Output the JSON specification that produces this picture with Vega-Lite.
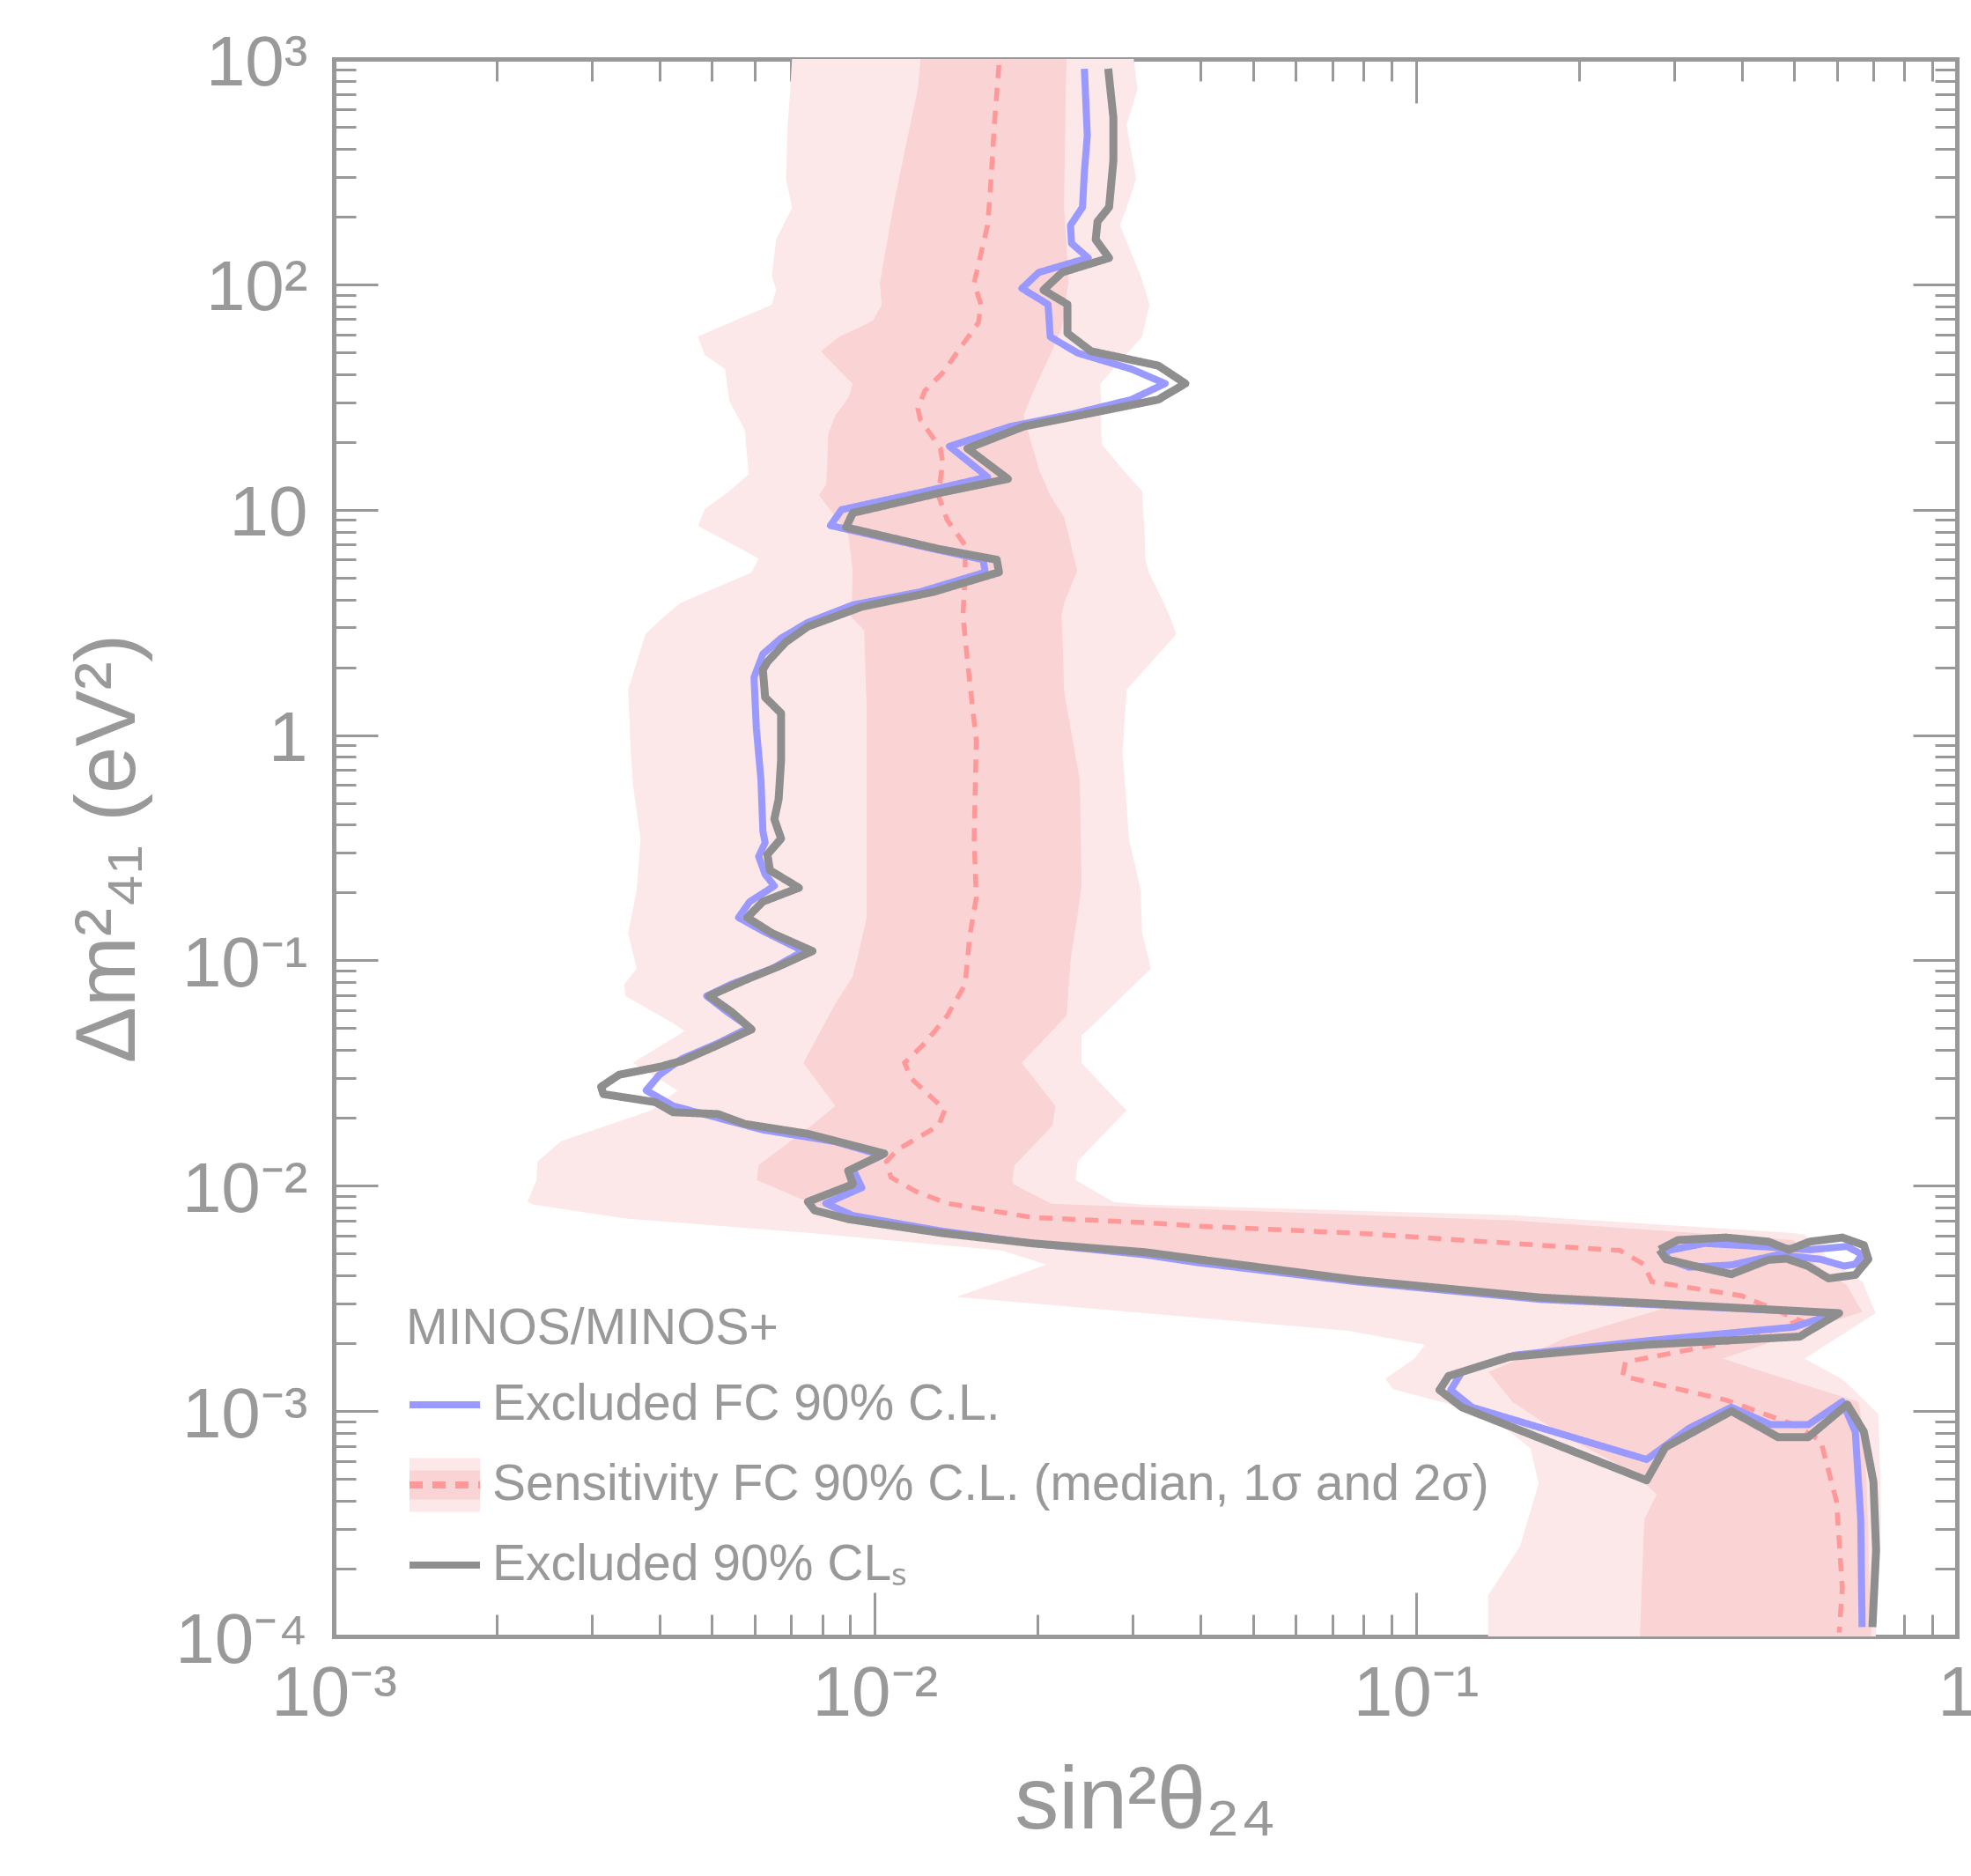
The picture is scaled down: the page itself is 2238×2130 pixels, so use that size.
{
  "$schema": "https://vega.github.io/schema/vega-lite/v6.json",
  "width": 1843,
  "height": 1791,
  "autosize": {"type": "none"},
  "padding": {"left": 379, "top": 67, "right": 16, "bottom": 272},
  "background": "white",
  "config": {
    "view": {"stroke": null},
    "font": "Liberation Sans",
    "axis": {
      "labelFont": "Liberation Sans",
      "titleFont": "Liberation Sans",
      "labelColor": "#999999",
      "titleColor": "#999999",
      "tickColor": "#999999",
      "domainColor": "#999999",
      "grid": false,
      "zindex": 1,
      "labelOverlap": false,
      "labelFlush": false,
      "labelBound": false,
      "titleFontWeight": "normal"
    }
  },
  "datasets": {
    "band2": [
      {"y":1000,"lo":0.00703,"hi":0.0301},{"y":736,"lo":0.00698,"hi":0.0306},{"y":509,"lo":0.0069,"hi":0.0292},{"y":294,"lo":0.00685,"hi":0.0304},{"y":219,"lo":0.00703,"hi":0.0292},{"y":183,"lo":0.00677,"hi":0.0284},{"y":158,"lo":0.00657,"hi":0.0291},{"y":109,"lo":0.00645,"hi":0.031},{"y":94.7,"lo":0.00657,"hi":0.0316},{"y":81.2,"lo":0.00645,"hi":0.0322},{"y":58.7,"lo":0.00471,"hi":0.0312},{"y":48.6,"lo":0.00485,"hi":0.0291},{"y":42.1,"lo":0.00529,"hi":0.0276},{"y":36.1,"lo":0.00533,"hi":0.0261},{"y":30.2,"lo":0.00539,"hi":0.0262},{"y":22.4,"lo":0.00576,"hi":0.0262},{"y":19.4,"lo":0.00578,"hi":0.0263},{"y":14.4,"lo":0.00585,"hi":0.0292},{"y":12.1,"lo":0.00539,"hi":0.0312},{"y":10.07,"lo":0.00485,"hi":0.0313},{"y":8.49,"lo":0.00471,"hi":0.0315},{"y":6.08,"lo":0.0061,"hi":0.0316},{"y":5.27,"lo":0.00592,"hi":0.0321},{"y":4.33,"lo":0.00489,"hi":0.0334},{"y":3.85,"lo":0.00437,"hi":0.0342},{"y":3.36,"lo":0.00408,"hi":0.0351},{"y":2.81,"lo":0.00377,"hi":0.0361},{"y":1.59,"lo":0.0035,"hi":0.0292},{"y":0.841,"lo":0.00354,"hi":0.0287},{"y":0.608,"lo":0.00357,"hi":0.029},{"y":0.345,"lo":0.00369,"hi":0.0295},{"y":0.205,"lo":0.00363,"hi":0.031},{"y":0.132,"lo":0.0035,"hi":0.0312},{"y":0.0919,"lo":0.00363,"hi":0.0324},{"y":0.0782,"lo":0.00344,"hi":0.0302},{"y":0.0695,"lo":0.00346,"hi":0.0287},{"y":0.0526,"lo":0.00424,"hi":0.0255},{"y":0.0485,"lo":0.00445,"hi":0.0246},{"y":0.0464,"lo":0.00432,"hi":0.0241},{"y":0.0351,"lo":0.00357,"hi":0.0241},{"y":0.0265,"lo":0.00432,"hi":0.0269},{"y":0.0216,"lo":0.00386,"hi":0.0292},{"y":0.01575,"lo":0.00263,"hi":0.0257},{"y":0.0128,"lo":0.00238,"hi":0.0237},{"y":0.0106,"lo":0.00237,"hi":0.0235},{"y":0.00847,"lo":0.00228,"hi":0.0276},{"y":0.00824,"lo":0.00234,"hi":0.0316},{"y":0.0074,"lo":0.00316,"hi":0.1524},{"y":0.00714,"lo":0.0035,"hi":0.1909},{"y":0.00618,"lo":0.00752,"hi":0.494},{"y":0.00607,"lo":0.00817,"hi":0.523},{"y":0.00516,"lo":0.01715,"hi":0.559},{"y":0.00447,"lo":0.02076,"hi":0.596},{"y":0.00373,"lo":0.01689,"hi":0.67},{"y":0.00321,"lo":0.01416,"hi":0.687},{"y":0.00272,"lo":0.0316,"hi":0.708},{"y":0.00228,"lo":0.0742,"hi":0.631},{"y":0.00197,"lo":0.104,"hi":0.574},{"y":0.00171,"lo":0.0994,"hi":0.523},{"y":0.00139,"lo":0.0878,"hi":0.612},{"y":0.00125,"lo":0.0908,"hi":0.643},{"y":0.000968,"lo":0.136,"hi":0.716},{"y":0.000682,"lo":0.163,"hi":0.719},{"y":0.000475,"lo":0.1686,"hi":0.722},{"y":0.000332,"lo":0.1612,"hi":0.724},{"y":0.000251,"lo":0.1558,"hi":0.722},{"y":0.000152,"lo":0.136,"hi":0.713},{"y":0.0001,"lo":0.136,"hi":0.708}
    ],
    "band1": [
      {"y":1000,"lo":0.01215,"hi":0.02263},{"y":736,"lo":0.01201,"hi":0.02254},{"y":425.5,"lo":0.01144,"hi":0.02246},{"y":219,"lo":0.01081,"hi":0.02237},{"y":170,"lo":0.01061,"hi":0.02254},{"y":101.7,"lo":0.01022,"hi":0.0228},{"y":81.2,"lo":0.0103,"hi":0.02246},{"y":69.1,"lo":0.00992,"hi":0.02229},{"y":63.1,"lo":0.0092,"hi":0.02213},{"y":58.7,"lo":0.0086,"hi":0.0218},{"y":50.4,"lo":0.00795,"hi":0.02123},{"y":36.1,"lo":0.0091,"hi":0.01991},{"y":31.3,"lo":0.00893,"hi":0.0194},{"y":26.2,"lo":0.00845,"hi":0.01883},{"y":21.6,"lo":0.0082,"hi":0.01926},{"y":14.96,"lo":0.00816,"hi":0.02014},{"y":12.96,"lo":0.00813,"hi":0.02068},{"y":11.63,"lo":0.00789,"hi":0.02107},{"y":9.29,"lo":0.00845,"hi":0.02237},{"y":7.76,"lo":0.00893,"hi":0.0228},{"y":5.36,"lo":0.0091,"hi":0.02366},{"y":3.85,"lo":0.00907,"hi":0.02237},{"y":3.36,"lo":0.00903,"hi":0.02213},{"y":2.91,"lo":0.00956,"hi":0.02222},{"y":1.59,"lo":0.00963,"hi":0.02237},{"y":1.416,"lo":0.00966,"hi":0.02254},{"y":0.63,"lo":0.00966,"hi":0.02393},{"y":0.214,"lo":0.00966,"hi":0.02411},{"y":0.155,"lo":0.00966,"hi":0.02366},{"y":0.1042,"lo":0.0093,"hi":0.02305},{"y":0.0847,"lo":0.0091,"hi":0.02288},{"y":0.0641,"lo":0.00845,"hi":0.02271},{"y":0.0571,"lo":0.00823,"hi":0.02263},{"y":0.0351,"lo":0.00738,"hi":0.01869},{"y":0.0226,"lo":0.00845,"hi":0.02156},{"y":0.01852,"lo":0.00764,"hi":0.02131},{"y":0.01235,"lo":0.0061,"hi":0.01814},{"y":0.0106,"lo":0.00605,"hi":0.01794},{"y":0.01014,"lo":0.00633,"hi":0.01807},{"y":0.00847,"lo":0.00752,"hi":0.0209},{"y":0.00832,"lo":0.00769,"hi":0.02115},{"y":0.00802,"lo":0.00801,"hi":0.0316},{"y":0.0072,"lo":0.0091,"hi":0.1112},{"y":0.00701,"lo":0.0097,"hi":0.1524},{"y":0.00607,"lo":0.01334,"hi":0.362},{"y":0.00574,"lo":0.01615,"hi":0.4998},{"y":0.00544,"lo":0.01955,"hi":0.5054},{"y":0.00488,"lo":0.0395,"hi":0.5307},{"y":0.00447,"lo":0.0524,"hi":0.5468},{"y":0.00396,"lo":0.0776,"hi":0.5916},{"y":0.00362,"lo":0.115,"hi":0.6258},{"y":0.00331,"lo":0.1705,"hi":0.6401},{"y":0.00294,"lo":0.299,"hi":0.6571},{"y":0.00276,"lo":0.2745,"hi":0.6695},{"y":0.00213,"lo":0.191,"hi":0.4833},{"y":0.00171,"lo":0.1553,"hi":0.369},{"y":0.00149,"lo":0.1362,"hi":0.44},{"y":0.0011,"lo":0.1507,"hi":0.6571},{"y":0.00078,"lo":0.187,"hi":0.675},{"y":0.000534,"lo":0.252,"hi":0.679},{"y":0.000427,"lo":0.2786,"hi":0.6821},{"y":0.000332,"lo":0.2644,"hi":0.6847},{"y":0.00021,"lo":0.2624,"hi":0.6873},{"y":0.0001,"lo":0.2595,"hi":0.695}
    ],
    "median": [
      {"i":0,"x":0.01696,"y":940},{"i":1,"x":0.01663,"y":511},{"i":2,"x":0.01632,"y":245},{"i":3,"x":0.01616,"y":183},{"i":4,"x":0.0157,"y":136},{"i":5,"x":0.01526,"y":101.5},{"i":6,"x":0.0157,"y":81.5},{"i":7,"x":0.01555,"y":67.8},{"i":8,"x":0.0144,"y":52.4},{"i":9,"x":0.01335,"y":40.5},{"i":10,"x":0.01237,"y":33.7},{"i":11,"x":0.01201,"y":28.1},{"i":12,"x":0.01213,"y":25.2},{"i":13,"x":0.01322,"y":18.7},{"i":14,"x":0.01335,"y":16.2},{"i":15,"x":0.0131,"y":11.6},{"i":16,"x":0.01361,"y":9.0},{"i":17,"x":0.01469,"y":6.95},{"i":18,"x":0.01469,"y":5.19},{"i":19,"x":0.01455,"y":3.36},{"i":20,"x":0.01497,"y":1.73},{"i":21,"x":0.0154,"y":0.946},{"i":22,"x":0.01526,"y":0.347},{"i":23,"x":0.0154,"y":0.19},{"i":24,"x":0.01497,"y":0.127},{"i":25,"x":0.01469,"y":0.0784},{"i":26,"x":0.01361,"y":0.0568},{"i":27,"x":0.01237,"y":0.0429},{"i":28,"x":0.01135,"y":0.0351},{"i":29,"x":0.01168,"y":0.0299},{"i":30,"x":0.01348,"y":0.0217},{"i":31,"x":0.0131,"y":0.01845},{"i":32,"x":0.01168,"y":0.0157},{"i":33,"x":0.01103,"y":0.01449},{"i":34,"x":0.01051,"y":0.0128},{"i":35,"x":0.01071,"y":0.0109},{"i":36,"x":0.0119,"y":0.00945},{"i":37,"x":0.01361,"y":0.00835},{"i":38,"x":0.01956,"y":0.00723},{"i":39,"x":0.0316,"y":0.00686},{"i":40,"x":0.0395,"y":0.00662},{"i":41,"x":0.0776,"y":0.00616},{"i":42,"x":0.2384,"y":0.00516},{"i":43,"x":0.2638,"y":0.00448},{"i":44,"x":0.273,"y":0.00375},{"i":45,"x":0.4,"y":0.00325},{"i":46,"x":0.512,"y":0.00253},{"i":47,"x":0.418,"y":0.00212},{"i":48,"x":0.244,"y":0.00165},{"i":49,"x":0.241,"y":0.00143},{"i":50,"x":0.374,"y":0.00112},{"i":51,"x":0.5,"y":0.00087},{"i":52,"x":0.56,"y":0.00074},{"i":53,"x":0.599,"y":0.000398},{"i":54,"x":0.614,"y":0.000164},{"i":55,"x":0.606,"y":0.000104}
    ],
    "blue": [
      {"part":"main","i":0,"x":0.0244,"y":905},{"part":"main","i":1,"x":0.0247,"y":457},{"part":"main","i":2,"x":0.0244,"y":317},{"part":"main","i":3,"x":0.0242,"y":220},{"part":"main","i":4,"x":0.023,"y":183},{"part":"main","i":5,"x":0.0231,"y":152},{"part":"main","i":6,"x":0.0248,"y":131},{"part":"main","i":7,"x":0.0201,"y":113},{"part":"main","i":8,"x":0.0187,"y":96},{"part":"main","i":9,"x":0.0209,"y":81.5},{"part":"main","i":10,"x":0.0211,"y":58.5},{"part":"main","i":11,"x":0.0237,"y":49.6},{"part":"main","i":12,"x":0.0298,"y":42.1},{"part":"main","i":13,"x":0.0344,"y":36.3},{"part":"main","i":14,"x":0.0298,"y":30.8},{"part":"main","i":15,"x":0.0232,"y":26.6},{"part":"main","i":16,"x":0.0178,"y":23.4},{"part":"main","i":17,"x":0.01374,"y":19.1},{"part":"main","i":18,"x":0.01616,"y":13.97},{"part":"main","i":19,"x":0.01237,"y":12.05},{"part":"main","i":20,"x":0.00868,"y":10.0},{"part":"main","i":21,"x":0.00828,"y":8.51},{"part":"main","i":22,"x":0.01237,"y":6.83},{"part":"main","i":23,"x":0.01585,"y":6.0},{"part":"main","i":24,"x":0.016,"y":5.28},{"part":"main","i":25,"x":0.01213,"y":4.32},{"part":"main","i":26,"x":0.00911,"y":3.78},{"part":"main","i":27,"x":0.00752,"y":3.16},{"part":"main","i":28,"x":0.00671,"y":2.69},{"part":"main","i":29,"x":0.00621,"y":2.29},{"part":"main","i":30,"x":0.00598,"y":1.8},{"part":"main","i":31,"x":0.00604,"y":1.07},{"part":"main","i":32,"x":0.00616,"y":0.634},{"part":"main","i":33,"x":0.00621,"y":0.375},{"part":"main","i":34,"x":0.00627,"y":0.333},{"part":"main","i":35,"x":0.0061,"y":0.289},{"part":"main","i":36,"x":0.00627,"y":0.241},{"part":"main","i":37,"x":0.00652,"y":0.214},{"part":"main","i":38,"x":0.00587,"y":0.182},{"part":"main","i":39,"x":0.0056,"y":0.155},{"part":"main","i":40,"x":0.00621,"y":0.135},{"part":"main","i":41,"x":0.00738,"y":0.11},{"part":"main","i":42,"x":0.00646,"y":0.092},{"part":"main","i":43,"x":0.00543,"y":0.0784},{"part":"main","i":44,"x":0.00489,"y":0.0695},{"part":"main","i":45,"x":0.00533,"y":0.0592},{"part":"main","i":46,"x":0.00587,"y":0.0504},{"part":"main","i":47,"x":0.00513,"y":0.0429},{"part":"main","i":48,"x":0.0044,"y":0.0366},{"part":"main","i":49,"x":0.004,"y":0.0311},{"part":"main","i":50,"x":0.00378,"y":0.0265},{"part":"main","i":51,"x":0.00424,"y":0.0226},{"part":"main","i":52,"x":0.00513,"y":0.02},{"part":"main","i":53,"x":0.00621,"y":0.0177},{"part":"main","i":54,"x":0.00844,"y":0.0157},{"part":"main","i":55,"x":0.01031,"y":0.01365},{"part":"main","i":56,"x":0.00911,"y":0.01186},{"part":"main","i":57,"x":0.00946,"y":0.0098},{"part":"main","i":58,"x":0.00812,"y":0.00835},{"part":"main","i":59,"x":0.00911,"y":0.00737},{"part":"main","i":60,"x":0.01335,"y":0.00628},{"part":"main","i":61,"x":0.01956,"y":0.00555},{"part":"main","i":62,"x":0.0316,"y":0.00494},{"part":"main","i":63,"x":0.0395,"y":0.00456},{"part":"main","i":64,"x":0.0776,"y":0.00375},{"part":"main","i":65,"x":0.17,"y":0.00313},{"part":"main","i":66,"x":0.599,"y":0.00272},{"part":"main","i":67,"x":0.5,"y":0.00236},{"part":"main","i":68,"x":0.267,"y":0.00205},{"part":"main","i":69,"x":0.152,"y":0.00177},{"part":"main","i":70,"x":0.1216,"y":0.00149},{"part":"main","i":71,"x":0.116,"y":0.00124},{"part":"main","i":72,"x":0.127,"y":0.00104},{"part":"main","i":73,"x":0.267,"y":0.00061},{"part":"main","i":74,"x":0.32,"y":0.00084},{"part":"main","i":75,"x":0.383,"y":0.00104},{"part":"main","i":76,"x":0.453,"y":0.00087},{"part":"main","i":77,"x":0.531,"y":0.00087},{"part":"main","i":78,"x":0.614,"y":0.0011},{"part":"main","i":79,"x":0.649,"y":0.00081},{"part":"main","i":80,"x":0.664,"y":0.000333},{"part":"main","i":81,"x":0.668,"y":0.00011},
      {"part":"island","i":0,"x":0.289,"y":0.00513},{"part":"island","i":1,"x":0.342,"y":0.00555},{"part":"island","i":2,"x":0.448,"y":0.00535},{"part":"island","i":3,"x":0.535,"y":0.0052},{"part":"island","i":4,"x":0.627,"y":0.00538},{"part":"island","i":5,"x":0.668,"y":0.00494},{"part":"island","i":6,"x":0.649,"y":0.00449},{"part":"island","i":7,"x":0.619,"y":0.0044},{"part":"island","i":8,"x":0.559,"y":0.00472},{"part":"island","i":9,"x":0.467,"y":0.00494},{"part":"island","i":10,"x":0.383,"y":0.00445},{"part":"island","i":11,"x":0.32,"y":0.00435},{"part":"island","i":12,"x":0.292,"y":0.00472},{"part":"island","i":13,"x":0.289,"y":0.00513}
    ],
    "gray": [
      {"part":"main","i":0,"x":0.027,"y":905},{"part":"main","i":1,"x":0.0276,"y":549},{"part":"main","i":2,"x":0.0276,"y":354},{"part":"main","i":3,"x":0.0271,"y":220},{"part":"main","i":4,"x":0.0258,"y":190},{"part":"main","i":5,"x":0.0256,"y":158},{"part":"main","i":6,"x":0.0271,"y":131},{"part":"main","i":7,"x":0.0222,"y":113},{"part":"main","i":8,"x":0.0205,"y":94.4},{"part":"main","i":9,"x":0.0227,"y":81.5},{"part":"main","i":10,"x":0.0227,"y":60.7},{"part":"main","i":11,"x":0.0251,"y":50.5},{"part":"main","i":12,"x":0.0334,"y":43.6},{"part":"main","i":13,"x":0.0375,"y":36.3},{"part":"main","i":14,"x":0.0334,"y":30.8},{"part":"main","i":15,"x":0.0237,"y":26.1},{"part":"main","i":16,"x":0.01884,"y":23.4},{"part":"main","i":17,"x":0.01483,"y":18.7},{"part":"main","i":18,"x":0.01762,"y":13.7},{"part":"main","i":19,"x":0.0131,"y":11.84},{"part":"main","i":20,"x":0.00911,"y":9.68},{"part":"main","i":21,"x":0.00885,"y":8.35},{"part":"main","i":22,"x":0.0131,"y":6.7},{"part":"main","i":23,"x":0.0168,"y":6.0},{"part":"main","i":24,"x":0.01696,"y":5.28},{"part":"main","i":25,"x":0.01285,"y":4.32},{"part":"main","i":26,"x":0.00946,"y":3.71},{"part":"main","i":27,"x":0.00752,"y":3.03},{"part":"main","i":28,"x":0.00684,"y":2.58},{"part":"main","i":29,"x":0.00633,"y":2.11},{"part":"main","i":30,"x":0.00621,"y":1.95},{"part":"main","i":31,"x":0.00627,"y":1.47},{"part":"main","i":32,"x":0.00671,"y":1.25},{"part":"main","i":33,"x":0.00671,"y":0.774},{"part":"main","i":34,"x":0.00664,"y":0.518},{"part":"main","i":35,"x":0.00652,"y":0.424},{"part":"main","i":36,"x":0.00671,"y":0.347},{"part":"main","i":37,"x":0.00633,"y":0.295},{"part":"main","i":38,"x":0.0064,"y":0.251},{"part":"main","i":39,"x":0.00724,"y":0.21},{"part":"main","i":40,"x":0.00621,"y":0.1823},{"part":"main","i":41,"x":0.00581,"y":0.155},{"part":"main","i":42,"x":0.00646,"y":0.132},{"part":"main","i":43,"x":0.00767,"y":0.11},{"part":"main","i":44,"x":0.00664,"y":0.094},{"part":"main","i":45,"x":0.00575,"y":0.0817},{"part":"main","i":46,"x":0.00494,"y":0.0695},{"part":"main","i":47,"x":0.00543,"y":0.0592},{"part":"main","i":48,"x":0.00592,"y":0.0494},{"part":"main","i":49,"x":0.00513,"y":0.0421},{"part":"main","i":50,"x":0.0044,"y":0.0358},{"part":"main","i":51,"x":0.004,"y":0.0337},{"part":"main","i":52,"x":0.00337,"y":0.0311},{"part":"main","i":53,"x":0.00312,"y":0.0275},{"part":"main","i":54,"x":0.00315,"y":0.0255},{"part":"main","i":55,"x":0.00393,"y":0.0235},{"part":"main","i":56,"x":0.00424,"y":0.0212},{"part":"main","i":57,"x":0.00513,"y":0.0208},{"part":"main","i":58,"x":0.00575,"y":0.0188},{"part":"main","i":59,"x":0.00752,"y":0.017},{"part":"main","i":60,"x":0.01041,"y":0.0139},{"part":"main","i":61,"x":0.00893,"y":0.01164},{"part":"main","i":62,"x":0.00911,"y":0.01015},{"part":"main","i":63,"x":0.00752,"y":0.00849},{"part":"main","i":64,"x":0.00774,"y":0.00777},{"part":"main","i":65,"x":0.00893,"y":0.00711},{"part":"main","i":66,"x":0.01335,"y":0.00616},{"part":"main","i":67,"x":0.01956,"y":0.00555},{"part":"main","i":68,"x":0.0316,"y":0.00507},{"part":"main","i":69,"x":0.0395,"y":0.00472},{"part":"main","i":70,"x":0.0776,"y":0.00382},{"part":"main","i":71,"x":0.17,"y":0.00319},{"part":"main","i":72,"x":0.606,"y":0.00272},{"part":"main","i":73,"x":0.512,"y":0.00214},{"part":"main","i":74,"x":0.267,"y":0.00197},{"part":"main","i":75,"x":0.149,"y":0.00174},{"part":"main","i":76,"x":0.1149,"y":0.00143},{"part":"main","i":77,"x":0.1106,"y":0.00124},{"part":"main","i":78,"x":0.1216,"y":0.00104},{"part":"main","i":79,"x":0.267,"y":0.000493},{"part":"main","i":80,"x":0.289,"y":0.00069},{"part":"main","i":81,"x":0.383,"y":0.001},{"part":"main","i":82,"x":0.467,"y":0.000766},{"part":"main","i":83,"x":0.531,"y":0.000766},{"part":"main","i":84,"x":0.627,"y":0.00107},{"part":"main","i":85,"x":0.673,"y":0.00081},{"part":"main","i":86,"x":0.701,"y":0.000485},{"part":"main","i":87,"x":0.709,"y":0.000242},{"part":"main","i":88,"x":0.698,"y":0.00011},
      {"part":"island","i":0,"x":0.282,"y":0.0052},{"part":"island","i":1,"x":0.305,"y":0.00574},{"part":"island","i":2,"x":0.374,"y":0.00589},{"part":"island","i":3,"x":0.448,"y":0.00565},{"part":"island","i":4,"x":0.489,"y":0.0052},{"part":"island","i":5,"x":0.535,"y":0.00565},{"part":"island","i":6,"x":0.614,"y":0.00589},{"part":"island","i":7,"x":0.673,"y":0.00545},{"part":"island","i":8,"x":0.686,"y":0.00472},{"part":"island","i":9,"x":0.649,"y":0.00402},{"part":"island","i":10,"x":0.579,"y":0.00388},{"part":"island","i":11,"x":0.531,"y":0.0044},{"part":"island","i":12,"x":0.484,"y":0.00475},{"part":"island","i":13,"x":0.448,"y":0.00469},{"part":"island","i":14,"x":0.383,"y":0.00405},{"part":"island","i":15,"x":0.328,"y":0.0044},{"part":"island","i":16,"x":0.29,"y":0.00472},{"part":"island","i":17,"x":0.282,"y":0.0052}
    ]
  },
  "resolve": {"axis": {"x": "independent", "y": "independent"}},
  "layer": [
    {
      "data": {"name": "band2"},
      "mark": {"type": "area", "orient": "horizontal", "opacity": 1, "clip": true},
      "encoding": {
        "y": {"field": "y", "type": "quantitative", "scale": {"type": "log", "domain": [0.0001, 1000], "nice": false},
          "axis": {"orient": "left", "values": [0.0001, 0.001, 0.01, 0.1, 1, 10, 100, 1000], "ticks": false, "domain": true, "domainWidth": 5, "domainCap": "square", "labelFontSize": 80, "labelPadding": 30, "labelOffset": 5,
            "labelExpr": "datum.value < 0.0005 ? '10\u207b\u2074' : datum.value < 0.005 ? '10\u207b\u00b3' : datum.value < 0.05 ? '10\u207b\u00b2' : datum.value < 0.5 ? '10\u207b\u00b9' : datum.value < 5 ? '1' : datum.value < 50 ? '10' : datum.value < 500 ? '10\u00b2' : '10\u00b3'",
            "title": "\u0394m\u00b2\u2084\u2081 (eV\u00b2)", "titleFontSize": 96, "titleAngle": 270, "titleBaseline": "alphabetic", "titleAlign": "center", "titleX": -227, "titleY": 896}},
        "x": {"field": "lo", "type": "quantitative", "scale": {"type": "log", "domain": [0.001, 1], "nice": false},
          "axis": {"orient": "bottom", "values": [0.001, 0.01, 0.1, 1], "ticks": false, "domain": true, "domainWidth": 5, "domainCap": "square", "labelFontSize": 80, "labelPadding": 26,
            "labelExpr": "datum.value < 0.005 ? '10\u207b\u00b3' : datum.value < 0.05 ? '10\u207b\u00b2' : datum.value < 0.5 ? '10\u207b\u00b9' : '1'",
            "title": "sin\u00b2\u03b8\u2082\u2084", "titleFontSize": 100, "titleBaseline": "alphabetic", "titleAlign": "center", "titleX": 921, "titleY": 217}},
        "x2": {"field": "hi"},
        "color": {"datum": "c2", "type": "nominal", "scale": {"domain": ["c1", "c2", "c3"], "range": ["rgba(0,0,0,0)", "#fde8e9", "rgba(0,0,0,0)"]},
          "legend": {"orient": "none", "legendX": 82, "legendY": 1414, "direction": "vertical", "padding": 0, "title": " ", "titleFontSize": 57, "titleFont": "Liberation Sans", "titleFontWeight": "normal", "titleLimit": 2000, "titlePadding": 13, "labelFontSize": 57, "labelFont": "Liberation Sans", "labelExpr": "''", "labelLimit": 2000, "labelOffset": 10, "symbolType": "M-1,-0.76H1V0.76H-1Z", "symbolSize": 6400, "symbolStrokeWidth": 8, "symbolStrokeColor": "rgba(0,0,0,0)", "rowPadding": -5}}
      }
    },
    {
      "data": {"name": "band1"},
      "mark": {"type": "area", "orient": "horizontal", "opacity": 1, "clip": true},
      "encoding": {
        "y": {"field": "y", "type": "quantitative", "scale": {"type": "log", "domain": [0.0001, 1000], "nice": false},
          "axis": {"orient": "left", "values": [0.0001, 0.001, 0.01, 0.1, 1, 10, 100, 1000], "labels": false, "domain": false, "tickSize": -50, "tickWidth": 3, "title": null}},
        "x": {"field": "lo", "type": "quantitative", "scale": {"type": "log", "domain": [0.001, 1], "nice": false},
          "axis": {"orient": "bottom", "values": [0.001, 0.01, 0.1, 1], "labels": false, "domain": false, "tickSize": -50, "tickWidth": 3, "title": null}},
        "x2": {"field": "hi"},
        "fill": {"datum": "f2", "type": "nominal", "scale": {"domain": ["f1", "f2", "f3"], "range": ["rgba(0,0,0,0)", "#fad3d4", "rgba(0,0,0,0)"]},
          "legend": {"orient": "none", "legendX": 82, "legendY": 1414, "direction": "vertical", "padding": 0, "title": " ", "titleFontSize": 57, "titleFont": "Liberation Sans", "titleFontWeight": "normal", "titleLimit": 2000, "titlePadding": 13, "labelFontSize": 57, "labelFont": "Liberation Sans", "labelExpr": "''", "labelLimit": 2000, "labelOffset": 10, "symbolType": "M-1,-0.76M-1,-0.41H1V0.41H-1ZM1,0.76", "symbolSize": 6400, "symbolStrokeWidth": 8, "symbolStrokeColor": "rgba(0,0,0,0)", "rowPadding": -5}}
      }
    },
    {
      "data": {"name": "median"},
      "mark": {"type": "line", "strokeWidth": 5.5, "clip": true},
      "encoding": {
        "y": {"field": "y", "type": "quantitative", "scale": {"type": "log", "domain": [0.0001, 1000], "nice": false},
          "axis": {"orient": "left", "values": [0.0002,0.0003,0.0004,0.0005,0.0006,0.0007,0.0008,0.0009,0.002,0.003,0.004,0.005,0.006,0.007,0.008,0.009,0.02,0.03,0.04,0.05,0.06,0.07,0.08,0.09,0.2,0.3,0.4,0.5,0.6,0.7,0.8,0.9,2,3,4,5,6,7,8,9,20,30,40,50,60,70,80,90,200,300,400,500,600,700,800,900], "labels": false, "domain": false, "tickSize": -25, "tickWidth": 3, "title": null}},
        "x": {"field": "x", "type": "quantitative", "scale": {"type": "log", "domain": [0.001, 1], "nice": false},
          "axis": {"orient": "bottom", "values": [0.002,0.003,0.004,0.005,0.006,0.007,0.008,0.009,0.02,0.03,0.04,0.05,0.06,0.07,0.08,0.09,0.2,0.3,0.4,0.5,0.6,0.7,0.8,0.9], "labels": false, "domain": false, "tickSize": -25, "tickWidth": 3, "title": null}},
        "order": {"field": "i", "type": "quantitative"},
        "stroke": {"datum": "Sensitivity FC 90% C.L. (median, 1\u03c3 and 2\u03c3)", "type": "nominal",
          "scale": {"domain": ["Excluded FC 90% C.L.", "Sensitivity FC 90% C.L. (median, 1\u03c3 and 2\u03c3)", "Excluded 90% CL\u209b"], "range": ["#9999ff", "#ff9999", "#8e8e8e"]},
          "legend": {"orient": "none", "legendX": 82, "legendY": 1414, "direction": "vertical", "padding": 0, "title": "MINOS/MINOS+", "titleColor": "#999999", "titleFontSize": 57, "titleFont": "Liberation Sans", "titleFontWeight": "normal", "titleLimit": 2000, "titlePadding": 13, "labelFontSize": 57, "labelFont": "Liberation Sans", "labelColor": "#999999", "labelLimit": 2000, "labelOffset": 10, "symbolType": "M-1,-0.76M-1,0L1,0M1,0.76", "symbolSize": 6400, "symbolStrokeWidth": 8, "rowPadding": -5}},
        "strokeDash": {"datum": "Sensitivity FC 90% C.L. (median, 1\u03c3 and 2\u03c3)", "type": "nominal",
          "scale": {"domain": ["Excluded FC 90% C.L.", "Sensitivity FC 90% C.L. (median, 1\u03c3 and 2\u03c3)", "Excluded 90% CL\u209b"], "range": [[1, 0], [15, 11], [1, 0]]},
          "legend": {"orient": "none", "legendX": 82, "legendY": 1414, "direction": "vertical", "padding": 0, "title": "MINOS/MINOS+", "titleColor": "#999999", "titleFontSize": 57, "titleFont": "Liberation Sans", "titleFontWeight": "normal", "titleLimit": 2000, "titlePadding": 13, "labelFontSize": 57, "labelFont": "Liberation Sans", "labelColor": "#999999", "labelLimit": 2000, "labelOffset": 10, "symbolType": "M-1,-0.76M-1,0L1,0M1,0.76", "symbolSize": 6400, "symbolStrokeWidth": 8, "rowPadding": -5}}
      }
    },
    {
      "data": {"name": "blue"},
      "mark": {"type": "line", "strokeWidth": 8, "strokeJoin": "round", "clip": true},
      "encoding": {
        "y": {"field": "y", "type": "quantitative", "scale": {"type": "log", "domain": [0.0001, 1000], "nice": false},
          "axis": {"orient": "right", "values": [0.0001, 0.001, 0.01, 0.1, 1, 10, 100, 1000], "labels": false, "domain": true, "domainWidth": 5, "domainCap": "square", "tickSize": -50, "tickWidth": 3, "title": null}},
        "x": {"field": "x", "type": "quantitative", "scale": {"type": "log", "domain": [0.001, 1], "nice": false},
          "axis": {"orient": "top", "values": [0.001, 0.01, 0.1, 1], "labels": false, "domain": true, "domainWidth": 5, "domainCap": "square", "tickSize": -50, "tickWidth": 3, "title": null}},
        "order": {"field": "i", "type": "quantitative"},
        "detail": {"field": "part", "type": "nominal"},
        "stroke": {"datum": "Excluded FC 90% C.L.", "type": "nominal",
          "scale": {"domain": ["Excluded FC 90% C.L.", "Sensitivity FC 90% C.L. (median, 1\u03c3 and 2\u03c3)", "Excluded 90% CL\u209b"], "range": ["#9999ff", "#ff9999", "#8e8e8e"]},
          "legend": {"orient": "none", "legendX": 82, "legendY": 1414, "direction": "vertical", "padding": 0, "title": "MINOS/MINOS+", "titleColor": "#999999", "titleFontSize": 57, "titleFont": "Liberation Sans", "titleFontWeight": "normal", "titleLimit": 2000, "titlePadding": 13, "labelFontSize": 57, "labelFont": "Liberation Sans", "labelColor": "#999999", "labelLimit": 2000, "labelOffset": 10, "symbolType": "M-1,-0.76M-1,0L1,0M1,0.76", "symbolSize": 6400, "symbolStrokeWidth": 8, "rowPadding": -5}},
        "strokeDash": {"datum": "Excluded FC 90% C.L.", "type": "nominal",
          "scale": {"domain": ["Excluded FC 90% C.L.", "Sensitivity FC 90% C.L. (median, 1\u03c3 and 2\u03c3)", "Excluded 90% CL\u209b"], "range": [[1, 0], [15, 11], [1, 0]]},
          "legend": {"orient": "none", "legendX": 82, "legendY": 1414, "direction": "vertical", "padding": 0, "title": "MINOS/MINOS+", "titleColor": "#999999", "titleFontSize": 57, "titleFont": "Liberation Sans", "titleFontWeight": "normal", "titleLimit": 2000, "titlePadding": 13, "labelFontSize": 57, "labelFont": "Liberation Sans", "labelColor": "#999999", "labelLimit": 2000, "labelOffset": 10, "symbolType": "M-1,-0.76M-1,0L1,0M1,0.76", "symbolSize": 6400, "symbolStrokeWidth": 8, "rowPadding": -5}}
      }
    },
    {
      "data": {"name": "gray"},
      "mark": {"type": "line", "strokeWidth": 9, "strokeJoin": "round", "clip": true},
      "encoding": {
        "y": {"field": "y", "type": "quantitative", "scale": {"type": "log", "domain": [0.0001, 1000], "nice": false},
          "axis": {"orient": "right", "values": [0.0002,0.0003,0.0004,0.0005,0.0006,0.0007,0.0008,0.0009,0.002,0.003,0.004,0.005,0.006,0.007,0.008,0.009,0.02,0.03,0.04,0.05,0.06,0.07,0.08,0.09,0.2,0.3,0.4,0.5,0.6,0.7,0.8,0.9,2,3,4,5,6,7,8,9,20,30,40,50,60,70,80,90,200,300,400,500,600,700,800,900], "labels": false, "domain": false, "tickSize": -25, "tickWidth": 3, "title": null}},
        "x": {"field": "x", "type": "quantitative", "scale": {"type": "log", "domain": [0.001, 1], "nice": false},
          "axis": {"orient": "top", "values": [0.002,0.003,0.004,0.005,0.006,0.007,0.008,0.009,0.02,0.03,0.04,0.05,0.06,0.07,0.08,0.09,0.2,0.3,0.4,0.5,0.6,0.7,0.8,0.9], "labels": false, "domain": false, "tickSize": -25, "tickWidth": 3, "title": null}},
        "order": {"field": "i", "type": "quantitative"},
        "detail": {"field": "part", "type": "nominal"},
        "stroke": {"datum": "Excluded 90% CL\u209b", "type": "nominal",
          "scale": {"domain": ["Excluded FC 90% C.L.", "Sensitivity FC 90% C.L. (median, 1\u03c3 and 2\u03c3)", "Excluded 90% CL\u209b"], "range": ["#9999ff", "#ff9999", "#8e8e8e"]},
          "legend": {"orient": "none", "legendX": 82, "legendY": 1414, "direction": "vertical", "padding": 0, "title": "MINOS/MINOS+", "titleColor": "#999999", "titleFontSize": 57, "titleFont": "Liberation Sans", "titleFontWeight": "normal", "titleLimit": 2000, "titlePadding": 13, "labelFontSize": 57, "labelFont": "Liberation Sans", "labelColor": "#999999", "labelLimit": 2000, "labelOffset": 10, "symbolType": "M-1,-0.76M-1,0L1,0M1,0.76", "symbolSize": 6400, "symbolStrokeWidth": 8, "rowPadding": -5}},
        "strokeDash": {"datum": "Excluded 90% CL\u209b", "type": "nominal",
          "scale": {"domain": ["Excluded FC 90% C.L.", "Sensitivity FC 90% C.L. (median, 1\u03c3 and 2\u03c3)", "Excluded 90% CL\u209b"], "range": [[1, 0], [15, 11], [1, 0]]},
          "legend": {"orient": "none", "legendX": 82, "legendY": 1414, "direction": "vertical", "padding": 0, "title": "MINOS/MINOS+", "titleColor": "#999999", "titleFontSize": 57, "titleFont": "Liberation Sans", "titleFontWeight": "normal", "titleLimit": 2000, "titlePadding": 13, "labelFontSize": 57, "labelFont": "Liberation Sans", "labelColor": "#999999", "labelLimit": 2000, "labelOffset": 10, "symbolType": "M-1,-0.76M-1,0L1,0M1,0.76", "symbolSize": 6400, "symbolStrokeWidth": 8, "rowPadding": -5}}
      }
    }
  ]
}
